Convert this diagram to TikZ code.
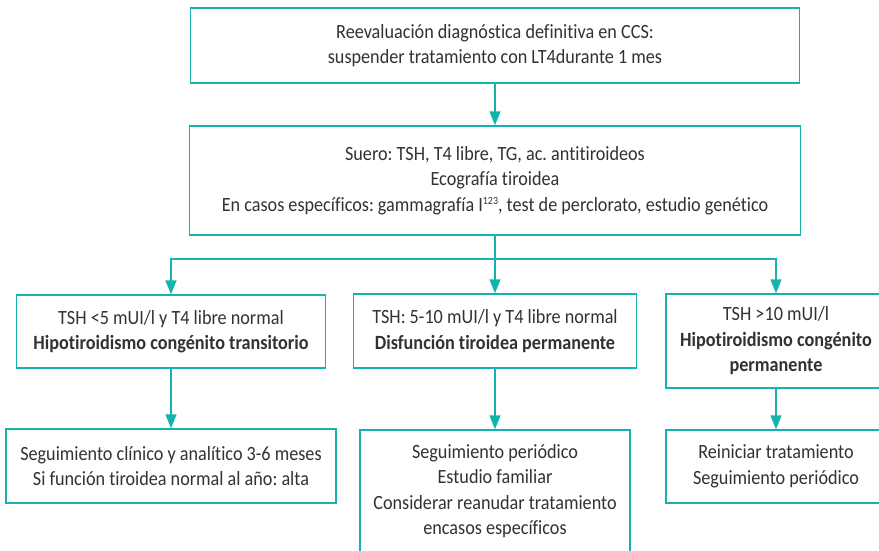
\documentclass[tikz,border=0pt]{standalone}
\usepackage{fontspec}
\setmainfont[FakeStretch=0.9, Ligatures=NoCommon]{Carlito}
\usetikzlibrary{arrows.meta}
\definecolor{flowteal}{RGB}{20,180,174}
\definecolor{textgray}{RGB}{50,50,50}
\frenchspacing

\begin{document}
\begin{tikzpicture}[x=1pt, y=-1pt, every node/.style={font=\fontsize{20.2}{25.5}\selectfont, text=textgray}]
    \tikzstyle{stepbox} = [rectangle, draw=flowteal, line width=1.4pt, fill=white, align=center, inner sep=0pt]
    \tikzstyle{arrow} = [-{Triangle[width=11pt,length=14pt]}, color=flowteal, line width=1.4pt]

    \useasboundingbox (0,0) rectangle (879,550);

    % Reevaluation
    \node [stepbox, minimum width=609pt, minimum height=75pt] (reeval) at (495,45.5) {Reevaluación diagnóstica definitiva en CCS:\\ suspender tratamiento con LT4durante 1 mes};

    % Tests
    \node [stepbox, minimum width=611pt, minimum height=109pt] (tests) at (495,180.5) {Suero: TSH, T4 libre, TG, ac. antitiroideos\\ Ecografía tiroidea\\ En casos específicos: gammagrafía I\raisebox{6.5pt}{\fontsize{11}{11}\selectfont 123}, test de perclorato, estudio genético};
    \coordinate (split) at (495,259);

    % Results
    \node [stepbox, minimum width=309pt, minimum height=73pt] (transient) at (171,331.5) {TSH <5 mUI/l y T4 libre normal\\ \textbf{Hipotiroidismo congénito transitorio}};
    \node [stepbox, minimum width=283pt, minimum height=74pt] (dysfunction) at (495,331) {TSH: 5-10 mUI/l y T4 libre normal\\ \textbf{Disfunción tiroidea permanente}};
    \node [stepbox, minimum width=220pt, minimum height=94pt] (permanent) at (776,341) {TSH >10 mUI/l\\ \textbf{Hipotiroidismo congénito}\\ \textbf{permanente}};

    % Follow-up
    \node [stepbox, minimum width=330pt, minimum height=74pt] (followup) at (171,466) {Seguimiento clínico y analítico 3-6 meses\\ Si función tiroidea normal al año: alta};
    \node [stepbox, minimum width=270pt, minimum height=122pt] (periodic) at (495,491) {Seguimiento periódico\\ Estudio familiar\\ Considerar reanudar tratamiento\\ encasos específicos};
    \node [stepbox, minimum width=220pt, minimum height=73pt] (restart) at (776,466.5) {Reiniciar tratamiento\\ Seguimiento periódico};

    % Connections
    \draw [arrow] (reeval) -- (tests);
    \draw [flowteal, line width=1.4pt] (tests) -- (split);
    \draw [arrow] (split) -| (transient);
    \draw [arrow] (split) -- (dysfunction);
    \draw [arrow] (split) -| (permanent);

    \draw [arrow] (transient) -- (followup);
    \draw [arrow] (dysfunction) -- (periodic);
    \draw [arrow] (permanent) -- (restart);
\end{tikzpicture}
\end{document}
